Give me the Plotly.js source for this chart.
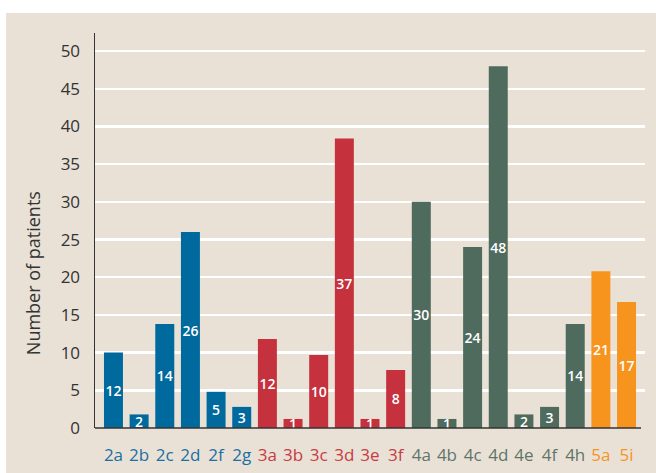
<!DOCTYPE html>
<html>
<head>
<meta charset="utf-8">
<script src="https://cdn.plot.ly/plotly-3.0.1.min.js"></script>
<style>html,body{margin:0;padding:0;background:#fff;}#chart{width:656px;height:473px;}</style>
</head>
<body>
<div id="chart"></div>
<script>
const categories = ["2a","2b","2c","2d","2f","2g","3a","3b","3c","3d","3e","3f","4a","4b","4c","4d","4e","4f","4h","5a","5i"];
const groups     = ["2","2","2","2","2","2","3","3","3","3","3","3","4","4","4","4","4","4","4","5","5"];
const barHeights = [10, 1.8, 13.8, 26, 4.8, 2.8, 11.8, 1.2, 9.7, 38.4, 1.2, 7.7, 30, 1.2, 24, 48, 1.8, 2.8, 13.8, 20.8, 16.7];
const barLabels  = ["12","2","14","26","5","3","12","1","10","37","1","8","30","1","24","48","2","3","14","21","17"];
const yTicks = [0,5,10,15,20,25,30,35,40,45,50];
const yTitle = "Number of patients";

const groupColors = {"2":"#00699D","3":"#C5313D","4":"#4E6B5E","5":"#F7941E"};
const labelColors = {"2":"#1A6FA3","3":"#C83A44","4":"#5F7569","5":"#F7941E"};

const x = categories.map((c,i)=>i);
const trace = {
  type: "bar",
  x: x,
  y: barHeights,
  text: barLabels,
  textposition: "inside",
  insidetextanchor: "middle",
  constraintext: "none",
  textangle: 0,
  cliponaxis: false,
  textfont: {family: "Open Sans", size: 14, color: "#ffffff", weight: 600},
  marker: {color: groups.map(g=>groupColors[g])},
  hoverinfo: "none"
};

const layout = {
  width: 656, height: 473,
  margin: {l: 95, r: 11, t: 33, b: 45},
  paper_bgcolor: "#ffffff",
  plot_bgcolor: "rgba(0,0,0,0)",
  showlegend: false,
  bargap: 0.26,
  font: {family: "Open Sans", color: "#333333"},
  shapes: [
    {type: "rect", xref: "paper", yref: "paper",
     x0: -0.1618, x1: 1.03, y0: -0.13, y1: 1.0506,
     fillcolor: "#E9E1D6", line: {width: 0}, layer: "below"},
    {type: "line", xref: "paper", yref: "paper",
     x0: 0, x1: 0.9927, y0: 0, y1: 0,
     line: {color: "#333333", width: 1.5}, layer: "above"}
  ],
  annotations: [{
    text: yTitle, xref: "paper", yref: "paper",
    x: -0.1127, y: 0.392, xanchor: "center", yanchor: "middle",
    textangle: -90, showarrow: false,
    font: {family: "Open Sans", size: 18, color: "#333333"}
  }],
  xaxis: {
    range: [-0.72, 20.72],
    tickmode: "array",
    tickvals: x,
    ticktext: categories.map((c,i)=>'<span style="color:'+labelColors[groups[i]]+'">'+c+'</span>'),
    tickfont: {family: "Open Sans", size: 17},
    ticks: "outside", ticklen: 12, tickcolor: "rgba(0,0,0,0)",
    showgrid: false, zeroline: false, showline: false,
    fixedrange: true
  },
  yaxis: {
    range: [0, 52.4],
    tickmode: "array",
    tickvals: yTicks,
    tickfont: {family: "Open Sans", size: 17, color: "#333333"},
    ticks: "outside", ticklen: 10, tickcolor: "rgba(0,0,0,0)",
    showgrid: true, gridcolor: "#ffffff", gridwidth: 2.5,
    zeroline: false,
    showline: true, linecolor: "#333333", linewidth: 1.5,
    automargin: false,
    fixedrange: true
  }
};

Plotly.newPlot("chart", [trace], layout, {displayModeBar: false, staticPlot: true});
</script>
</body>
</html>
